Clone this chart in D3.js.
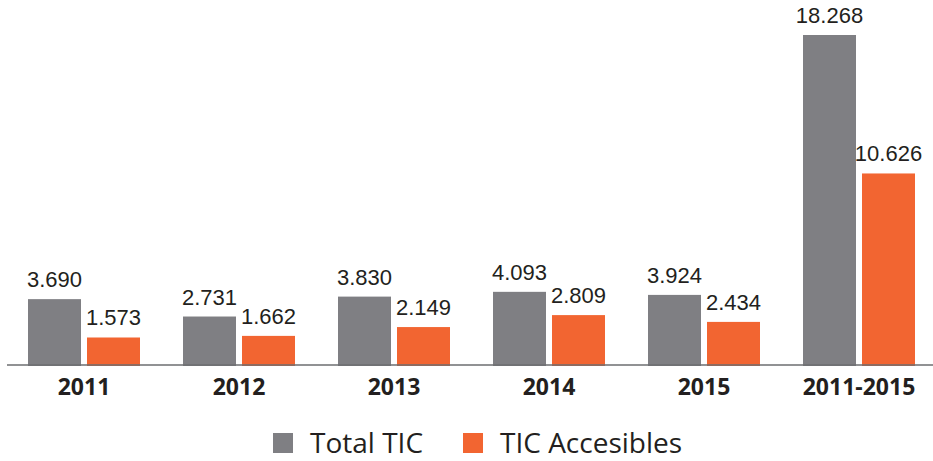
<!DOCTYPE html>
<html>
<head>
<meta charset="utf-8">
<script src="https://cdn.jsdelivr.net/npm/d3@7"></script>
<style>
  html, body { margin: 0; padding: 0; background: #ffffff; }
  svg { display: block; }
</style>
</head>
<body>
<svg id="chart" width="933" height="461"></svg>
<script>
const categories = ["2011", "2012", "2013", "2014", "2015", "2011-2015"];
const seriesNames = ["Total TIC", "TIC Accesibles"];
const totalTIC = [3690, 2731, 3830, 4093, 3924, 18268];
const ticAccesibles = [1573, 1662, 2149, 2809, 2434, 10626];
const colors = ["#7f7f83", "#f26531"];

const seriesValues = [totalTIC, ticAccesibles];
const data = categories.map((c, i) => ({
  category: c,
  values: seriesNames.map((s, j) => ({ series: s, value: seriesValues[j][i], color: colors[j] }))
}));

const svg = d3.select("#chart");
const textColor = "#231f20";
const baseline = 366;

const x0 = d3.scaleBand()
  .domain(categories)
  .range([28, 915])
  .paddingInner(43 / 155)
  .paddingOuter(0);

const x1 = d3.scaleBand()
  .domain(seriesNames)
  .range([0, x0.bandwidth()])
  .paddingInner(6 / 59)
  .paddingOuter(0);

const yMax = d3.max([...totalTIC, ...ticAccesibles]);
const y = d3.scaleLinear().domain([0, yMax]).range([baseline, 35]);

const locale = d3.formatLocale({ decimal: ",", thousands: ".", grouping: [3], currency: ["", "€"] });
const fmt = locale.format(",d");

const groups = svg.append("g").selectAll("g")
  .data(data)
  .join("g")
  .attr("transform", d => `translate(${x0(d.category)},0)`);

groups.selectAll("rect")
  .data(d => d.values)
  .join("rect")
  .attr("x", d => x1(d.series))
  .attr("y", d => y(d.value))
  .attr("width", x1.bandwidth())
  .attr("height", d => baseline - y(d.value))
  .attr("fill", d => d.color);

groups.selectAll("text.val")
  .data(d => d.values)
  .join("text")
  .attr("class", "val")
  .attr("x", d => x1(d.series) + x1.bandwidth() / 2)
  .attr("y", d => y(d.value) - 12)
  .attr("text-anchor", "middle")
  .attr("font-family", "'Liberation Sans', Arial, sans-serif")
  .attr("font-size", 22)
  .attr("fill", textColor)
  .text(d => fmt(d.value));

// baseline axis
const xAxis = d3.axisBottom(x0).tickSize(0).tickPadding(0);
const axisG = svg.append("g").attr("transform", `translate(0,${baseline - 1})`).call(xAxis);
axisG.select(".domain").remove();
axisG.append("line")
  .attr("x1", 7).attr("x2", 933)
  .attr("y1", 0).attr("y2", 0)
  .attr("stroke", "#6d6e71")
  .attr("stroke-width", 1.5);
axisG.selectAll(".tick text")
  .attr("y", 30)
  .attr("dy", 0)
  .attr("font-family", "'Open Sans', sans-serif")
  .attr("font-weight", "bold")
  .attr("font-size", 23)
  .attr("fill", textColor);

// legend
const legendItems = [
  { name: seriesNames[0], color: colors[0], x: 273 },
  { name: seriesNames[1], color: colors[1], x: 463 }
];
const legend = svg.append("g").selectAll("g")
  .data(legendItems)
  .join("g")
  .attr("transform", d => `translate(${d.x},433)`);
legend.append("rect")
  .attr("width", 20).attr("height", 20)
  .attr("fill", d => d.color);
legend.append("text")
  .attr("x", 37)
  .attr("y", 20)
  .attr("font-family", "'Open Sans', sans-serif")
  .attr("font-size", 28)
  .attr("fill", textColor)
  .text(d => d.name);
</script>
</body>
</html>
